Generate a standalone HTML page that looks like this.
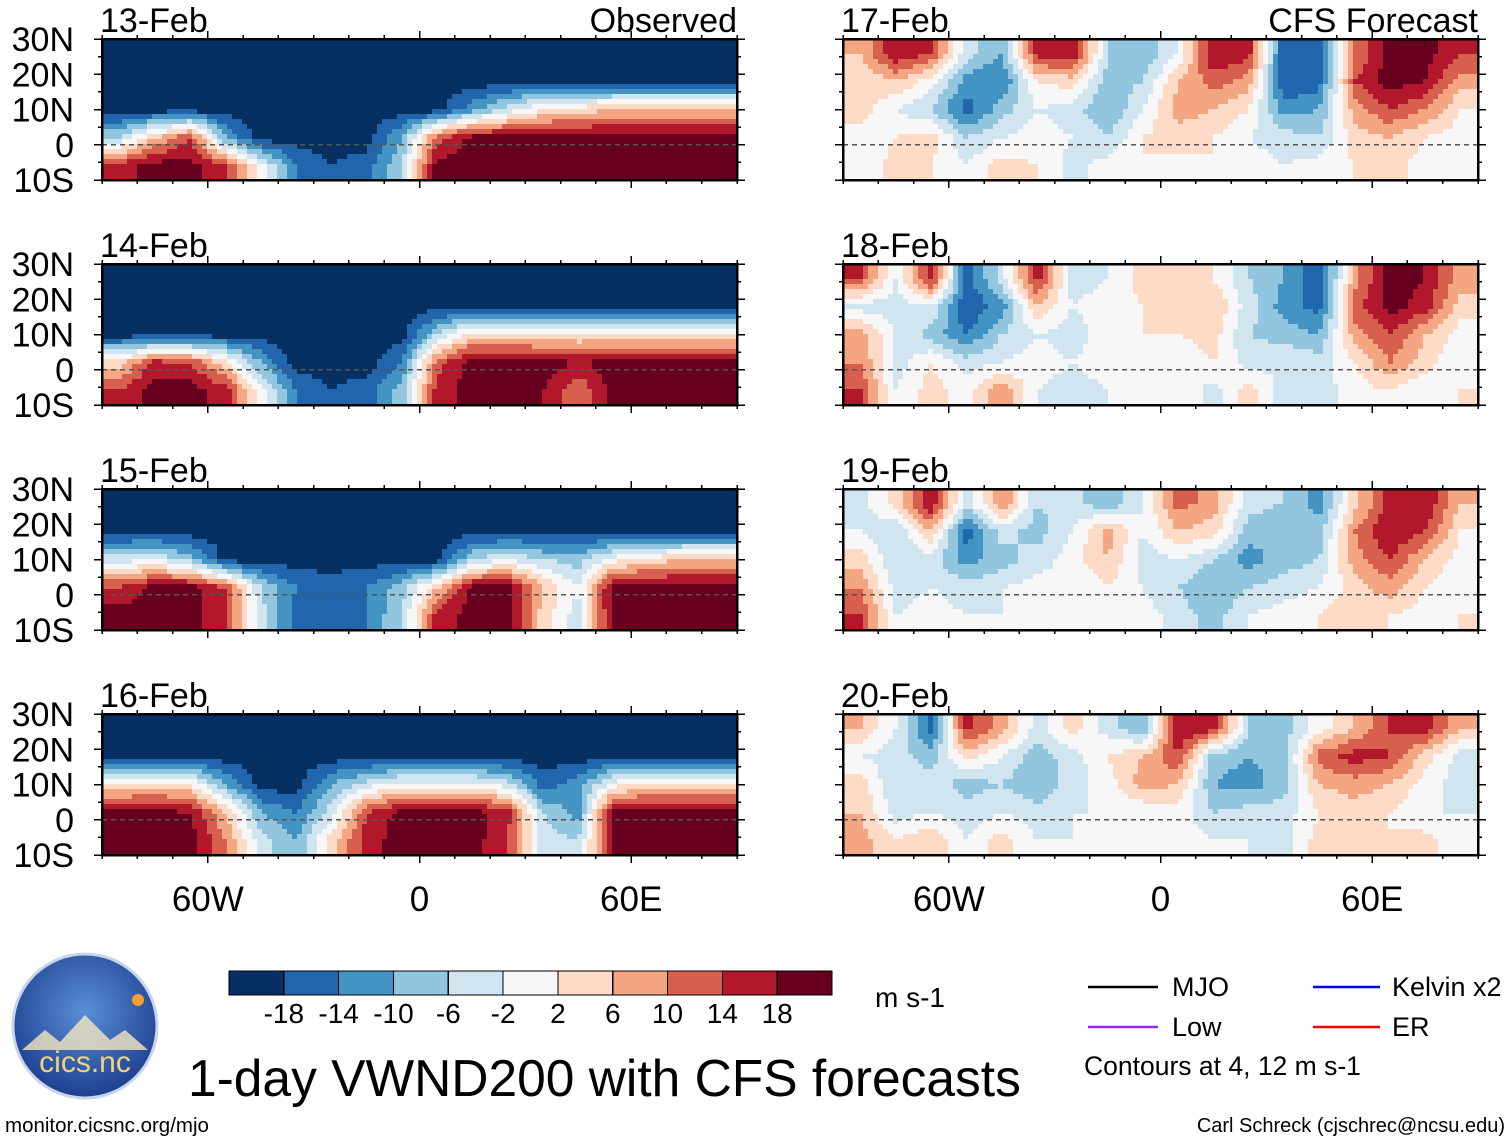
<!DOCTYPE html>
<html><head><meta charset="utf-8">
<style>
body{margin:0;background:#fff;width:1510px;height:1142px;overflow:hidden;font-family:"Liberation Sans",sans-serif}
svg text{font-family:"Liberation Sans",sans-serif}
</style></head>
<body>
<svg id="fig" width="1510" height="1142" viewBox="0 0 1510 1142" xmlns="http://www.w3.org/2000/svg" shape-rendering="crispEdges">
<defs>
<radialGradient id="logoG" cx="50%" cy="40%" r="60%"><stop offset="0" stop-color="#5a8fd8"/><stop offset="1" stop-color="#1d3f8f"/></radialGradient>
</defs>
<g id="panels"></g>
<g id="colorbar"></g>
<g shape-rendering="auto">
<text x="875" y="1007" font-size="28">m s-1</text>
<g font-size="27">
<line x1="1088" y1="987" x2="1158" y2="987" stroke="#000" stroke-width="2.5"/>
<text x="1172" y="996">MJO</text>
<line x1="1088" y1="1027" x2="1158" y2="1027" stroke="#a020f0" stroke-width="2.5"/>
<text x="1172" y="1036">Low</text>
<line x1="1313" y1="987" x2="1380" y2="987" stroke="#0000ff" stroke-width="2.5"/>
<text x="1392" y="996">Kelvin x2</text>
<line x1="1313" y1="1027" x2="1380" y2="1027" stroke="#ff0000" stroke-width="2.5"/>
<text x="1392" y="1036">ER</text>
<text x="1084" y="1075" font-size="26.5">Contours at 4, 12 m s-1</text>
</g>
<text x="188" y="1096" font-size="51.5">1-day VWND200 with CFS forecasts</text>
<text x="5" y="1132" font-size="20.5">monitor.cicsnc.org/mjo</text>
<text x="1505" y="1132" font-size="20" text-anchor="end">Carl Schreck (cjschrec@ncsu.edu)</text>
<g>
<circle cx="85" cy="1026" r="72" fill="url(#logoG)" stroke="#c8d4ea" stroke-width="3"/>
<path d="M22 1050 L45 1030 L60 1042 L85 1015 L110 1040 L125 1030 L148 1050 Z" fill="#f4e6c0" opacity="0.8"/>
<circle cx="138" cy="1000" r="6" fill="#f0a030"/>
<text x="85" y="1072" font-size="30" fill="#f2d27a" text-anchor="middle">cics.nc</text>
</g>
</g>
</svg>
<script>
const lons=[-85,-75,-65,-55,-45,-35,-25,-15,-5,5,15,25,35,45,55,65,75,85];
const lats=[26,18,10,2,-6];
const levels=[-18,-14,-10,-6,-2,2,6,10,14,18];
const colors=["#053061","#2166ac","#4393c3","#92c5de","#d1e5f0","#f7f7f7","#fddbc7","#f4a582","#d6604d","#b2182b","#67001f"];
const cbLabels=["-18","-14","-10","-6","-2","2","6","10","14","18"];
const latTicks=["30N","20N","10N","0","10S"];
const lonTicks=["60W","0","60E"];
const lonTickVals=[-60,0,60];
const dates=["13-Feb","14-Feb","15-Feb","16-Feb","17-Feb","18-Feb","19-Feb","20-Feb"];
const B=-20,R=20;
const p13=[[B,B,B,B,B,B,B,B,B,B,B,B,B,B,B,B,B,B],[B,B,B,B,B,B,B,B,B,B,B,B,B,B,B,B,B,B],[B,B,B,B,B,B,B,B,B,-20,-12,-4,2,4,6,6,6,6],[-6,6,14,-10,-20,-20,-20,-20,-10,12,20,20,20,20,20,20,20,20],[16,20,20,14,0,-14,-18,-16,-6,20,20,20,20,20,20,20,20,20]];
const p14=[[B,B,B,B,B,B,B,B,B,B,B,B,B,B,B,B,B,B],[B,B,B,B,B,B,B,B,B,B,B,B,B,B,B,B,B,B],[B,B,B,B,B,B,B,B,B,-6,4,4,2,2,2,2,2,2],[4,16,14,4,-10,-20,-20,-20,-14,12,20,20,20,18,20,20,20,20],[14,20,20,16,0,-14,-18,-16,-8,16,20,20,18,10,20,20,20,20]];
const p15=[[B,B,B,B,B,B,B,B,B,B,B,B,B,B,B,B,B,B],[B,B,B,B,B,B,B,B,B,B,B,B,B,B,B,B,B,B],[-4,-2,-8,-20,-20,-20,-20,-20,-20,-20,-6,-2,-6,-8,0,4,6,6],[14,20,20,14,-6,-14,-16,-14,-8,6,20,20,6,-2,20,20,20,20],[20,20,20,14,-4,-16,-18,-14,-6,16,20,20,4,-4,20,20,20,20]];
const p16=[[B,B,B,B,B,B,B,B,B,B,B,B,B,B,B,B,B,B],[B,B,B,B,B,B,B,B,B,B,B,B,B,B,B,B,B,B],[2,4,2,-10,-20,-20,-10,-4,0,0,0,-4,-16,-12,0,4,4,4],[20,20,18,6,-10,-14,-4,14,20,20,20,16,-6,-12,20,20,20,20],[20,20,20,10,-4,-10,4,16,20,20,20,14,-4,-6,20,20,20,20]];
const p17=[[6,18,14,-4,-10,16,18,-6,-10,-2,18,16,-18,-18,10,20,20,14],[2,6,0,-12,-14,2,4,-8,-6,6,12,8,-18,-16,14,20,18,8],[4,-2,-6,-16,-8,-2,-4,-10,-2,8,6,2,-12,-10,8,14,10,2],[0,2,4,-6,-2,0,-2,-6,2,4,2,-2,-4,-6,4,6,2,0],[-2,4,2,-2,4,2,-4,0,2,0,2,0,-2,0,2,4,0,-2]];
const p18=[[14,-2,16,-16,-4,16,-4,-2,4,6,2,-6,-10,-18,8,20,18,8],[-4,-4,-2,-18,-12,6,-2,0,2,4,6,-4,-12,-16,12,20,16,4],[8,-2,-8,-14,-6,-2,-4,0,2,2,4,-6,-8,-10,8,14,6,0],[10,-4,2,-4,-2,0,-2,0,0,-2,2,-4,-2,-4,2,10,4,-2],[14,-2,4,0,10,-2,-4,-2,-2,2,-4,4,-4,-4,0,2,-2,2]];
const p19=[[-4,4,18,-4,10,-6,-4,-10,-2,12,8,-4,-6,-12,4,16,18,6],[-2,-6,6,-16,-4,-8,-2,8,-2,6,4,-8,-10,-8,10,18,14,2],[4,-6,-4,-12,-8,-4,0,6,-4,-2,-6,-12,-8,-6,8,14,6,0],[10,-4,-2,-4,-2,0,-2,2,-2,-6,-10,-6,-4,-2,4,8,2,-2],[14,-2,0,-2,-2,2,-2,-2,0,-4,-8,-2,0,2,6,2,0,2]];
const p20=[[6,-2,-16,16,8,-4,4,-4,-10,18,16,-6,-8,0,6,14,16,6],[-2,-4,-8,4,-2,-8,-4,2,6,14,-8,-10,-8,12,16,14,4,-4],[4,-6,-4,-8,-6,-10,-4,0,8,6,-10,-12,-8,6,8,6,0,-4],[6,-4,-2,-4,-2,-4,-2,-2,-2,0,-6,-4,-4,2,4,2,-2,-2],[8,2,6,-2,4,-2,-2,-2,0,2,-2,-2,-4,4,6,2,4,-2]];
const panelData=[p13,p14,p15,p16,p17,p18,p19,p20];

const NS="http://www.w3.org/2000/svg";
function mk(tag,attrs,parent){const e=document.createElementNS(NS,tag);for(const k in attrs)e.setAttribute(k,attrs[k]);parent.appendChild(e);return e;}
function colorFor(v){let i=0;while(i<levels.length&&v>=levels[i])i++;return colors[i];}
const W=635,H=141,colX=[102,843],rowY=[39,264,489,714];
function xs(x0,lon){return x0+(lon+90)/180*W;}
function ys(y0,lat){return y0+(30-lat)/40*H;}
function sample(d,lon,lat){
  let fc=(lon-lons[0])/10, fr=(lats[0]-lat)/8;
  fc=Math.max(0,Math.min(lons.length-1,fc)); fr=Math.max(0,Math.min(lats.length-1,fr));
  const c0=Math.floor(fc),r0=Math.floor(fr),c1=Math.min(c0+1,lons.length-1),r1=Math.min(r0+1,lats.length-1);
  const tx=fc-c0,ty=fr-r0;
  const a=d[r0][c0]*(1-tx)+d[r0][c1]*tx, b=d[r1][c0]*(1-tx)+d[r1][c1]*tx;
  return a*(1-ty)+b*ty;
}
const root=document.getElementById('panels');
const STEP=5;
for(let p=0;p<8;p++){
  const x0=colX[p<4?0:1],y0=rowY[p%4];
  const g=mk('g',{},root);
  
  
  const hg=mk('g',{},g);
  
  
  const d=panelData[p];
  for(let py=0;py<H;py+=STEP){
    const lat=30-(py+STEP/2)/H*40;
    let runStart=0,runCol=null;
    for(let px=0;px<=W;px+=STEP){
      let col=null;
      if(px<W){const lon=-90+(px+STEP/2)/W*180;col=colorFor(sample(d,lon,lat));}
      if(col!==runCol){
        if(runCol!==null){
          const cell=mk('rect',{x:x0+runStart,y:y0+py,width:Math.min(px,W)-runStart,height:Math.min(STEP,H-py),fill:runCol},hg);
          
          
        }
        runStart=px;runCol=col;
      }
    }
  }
  const eq=mk('line',{x1:x0,x2:x0+W,y1:ys(y0,0),y2:ys(y0,0),stroke:'#555','stroke-width':1.5,'stroke-dasharray':'5,4'},g);
  
  
  const fr=mk('rect',{x:x0,y:y0,width:W,height:H,fill:'none',stroke:'#000','stroke-width':2.5},g);
  
  
  for(let lon=-90;lon<=90;lon+=10){const X=xs(x0,lon),len=(lon%60===0)?8:4;
    mk('line',{x1:X,x2:X,y1:y0,y2:y0-len,stroke:'#000','stroke-width':1.5},g);
    mk('line',{x1:X,x2:X,y1:y0+H,y2:y0+H+len,stroke:'#000','stroke-width':1.5},g);}
  for(let lat=-10;lat<=30;lat+=5){const Y=ys(y0,lat),len=(lat%10===0)?8:4;
    mk('line',{x1:x0,x2:x0-len,y1:Y,y2:Y,stroke:'#000','stroke-width':1.5},g);
    mk('line',{x1:x0+W,x2:x0+W+len,y1:Y,y2:Y,stroke:'#000','stroke-width':1.5},g);}
  const tg=mk('g',{'shape-rendering':'auto'},g);
  const dt=mk('text',{x:x0-2,y:y0-7,'font-size':34},tg);dt.textContent=dates[p];
  
  
  if(p===0||p===4){const t=mk('text',{x:x0+W,y:y0-7,'font-size':34,'text-anchor':'end'},tg);t.textContent=p===0?'Observed':'CFS Forecast';
    
    }
  if(p<4){for(let i=0;i<latTicks.length;i++){const t=mk('text',{x:74,y:y0+i*H/4+12,'font-size':34,'text-anchor':'end'},tg);t.textContent=latTicks[i];
    
    }}
  if(p%4===3){for(let i=0;i<lonTicks.length;i++){const t=mk('text',{x:xs(x0,lonTickVals[i]),y:911,'font-size':35,'text-anchor':'middle'},tg);t.textContent=lonTicks[i];
    
    }}
}
const cb=document.getElementById('colorbar');
const cbx=229,cbw=603/11;
for(let i=0;i<colors.length;i++){const r=mk('rect',{x:cbx+i*cbw,y:971,width:cbw,height:24,fill:colors[i],stroke:'#000','stroke-width':1.2},cb);
  
  }
for(let i=0;i<cbLabels.length;i++){const t=mk('text',{x:cbx+(i+1)*cbw,y:1023,'font-size':28,'text-anchor':'middle','shape-rendering':'auto'},cb);t.textContent=cbLabels[i];
  
  }
</script>
</body></html>
